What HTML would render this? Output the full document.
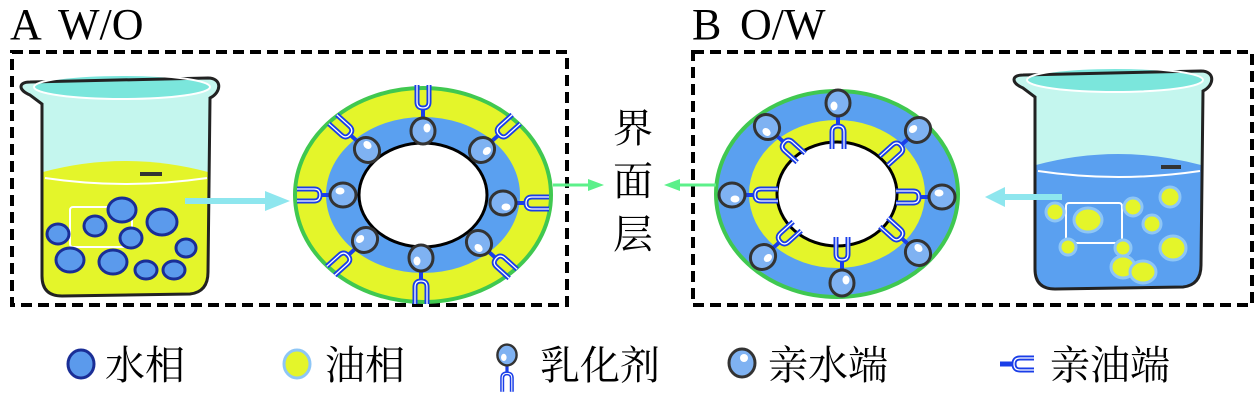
<!DOCTYPE html>
<html><head><meta charset="utf-8"><style>
body{margin:0;background:#fff}
svg{display:block}
text{font-family:"Liberation Serif","Noto Serif CJK SC",serif;fill:#000}
</style></head><body>
<svg width="1260" height="401" viewBox="0 0 1260 401" xmlns="http://www.w3.org/2000/svg">
<defs>
<g id="mol">
  <line x1="10" y1="0" x2="24" y2="0" stroke="#1a3ee8" stroke-width="4"/>
  <path d="M46,-6 L29,-6 Q23,-6 23,0 Q23,6 29,6 L46,6" fill="none" stroke="#1a3ee8" stroke-width="5"/>
  <path d="M46,-6 L29,-6 Q23,-6 23,0 Q23,6 29,6 L46,6" fill="none" stroke="#fff" stroke-width="1.3"/>
  <ellipse cx="0" cy="0" rx="13" ry="12" fill="#7fb2f2" stroke="#333" stroke-width="3"/>
  <ellipse cx="3" cy="4" rx="4.5" ry="3.5" fill="#fff"/>
</g>
<path id="bk" d="M30,95 C18,90 18,82 30,82 L208,78 C222,78 222,92 210,98 L208,272 Q208,292 190,294 L62,296 Q42,296 42,276 L42,104 Z"/>
</defs>

<text x="10" y="39" font-size="44">A</text><text x="58" y="39" font-size="44">W/O</text>
<text x="692" y="39" font-size="44">B</text><text x="740" y="39" font-size="44">O/W</text>

<rect x="12" y="52" width="555" height="253" fill="none" stroke="#000" stroke-width="4" stroke-dasharray="11,6"/>
<rect x="693" y="52" width="559" height="253" fill="none" stroke="#000" stroke-width="4" stroke-dasharray="11,6"/>

<!-- left beaker -->
<use href="#bk" fill="#c4f6ee"/>
<ellipse cx="122" cy="87" rx="88" ry="12" fill="#7be6dc"/>
<path d="M43,172 Q125,150 208,172 L208,272 Q208,292 190,294 L62,296 Q43,296 43,276 Z" fill="#e4f52a"/>
<path d="M45,178 Q125,190 207,178" fill="none" stroke="#fff" stroke-width="2"/>
<rect x="70" y="207" width="62" height="40" rx="3" fill="none" stroke="#fff" stroke-width="2"/>
<rect x="140" y="172" width="22" height="4" fill="#333"/>
<g fill="#5b9aec" stroke="#1a2e96" stroke-width="3">
<ellipse cx="122" cy="210" rx="14" ry="12"/><ellipse cx="95" cy="226" rx="11" ry="10"/>
<ellipse cx="162" cy="222" rx="15" ry="13"/><ellipse cx="58" cy="234" rx="11" ry="10"/>
<ellipse cx="131" cy="238" rx="11" ry="10"/><ellipse cx="70" cy="260" rx="14" ry="12"/>
<ellipse cx="113" cy="262" rx="14" ry="12"/><ellipse cx="146" cy="270" rx="11" ry="9"/>
<ellipse cx="174" cy="270" rx="11" ry="9"/><ellipse cx="186" cy="248" rx="10" ry="9"/>
</g>
<use href="#bk" fill="none" stroke="#222" stroke-width="3"/>
<ellipse cx="122" cy="87" rx="88" ry="12" fill="none" stroke="#fff" stroke-width="2"/>
<line x1="185" y1="201" x2="270" y2="201" stroke="#8ee6ee" stroke-width="6"/>
<polygon points="265,191 290,201 265,211" fill="#8ee6ee"/>

<!-- right beaker -->
<g transform="translate(993,-7)">
<use href="#bk" fill="#c4f6ee"/>
<ellipse cx="122" cy="87" rx="88" ry="12" fill="#7be6dc"/>
<path d="M43,172 Q125,150 208,172 L208,272 Q208,292 190,294 L62,296 Q43,296 43,276 Z" fill="#5aa0f0"/>
<path d="M45,178 Q125,190 207,178" fill="none" stroke="#fff" stroke-width="2"/>
<rect x="73" y="210" width="56" height="40" rx="3" fill="none" stroke="#fff" stroke-width="2"/>
<rect x="168" y="172" width="20" height="4" fill="#333"/>
</g>
<g fill="#e4f52a" stroke="#8ec6f6" stroke-width="3">
<circle cx="1055" cy="212" r="9"/><ellipse cx="1088" cy="220" rx="14" ry="12"/>
<circle cx="1133" cy="207" r="9"/><circle cx="1170" cy="197" r="10"/>
<circle cx="1152" cy="224" r="9"/><circle cx="1068" cy="247" r="8"/>
<ellipse cx="1123" cy="267" rx="12" ry="11"/><circle cx="1123" cy="248" r="8"/>
<ellipse cx="1173" cy="248" rx="13" ry="12"/><ellipse cx="1143" cy="272" rx="13" ry="11"/>
</g>
<g transform="translate(993,-7)">
<use href="#bk" fill="none" stroke="#222" stroke-width="3"/>
<ellipse cx="122" cy="87" rx="88" ry="12" fill="none" stroke="#fff" stroke-width="2"/>
</g>
<line x1="1062" y1="197" x2="1000" y2="197" stroke="#8ee6ee" stroke-width="6"/>
<polygon points="1005,187 985,197 1005,207" fill="#8ee6ee"/>

<!-- left ring -->
<ellipse cx="423" cy="195" rx="128" ry="107" fill="#e4f52a" stroke="#40c850" stroke-width="4"/>
<ellipse cx="423" cy="195" rx="97" ry="78" fill="#5aa0f0"/>
<ellipse cx="423" cy="195" rx="64" ry="52" fill="#fff" stroke="#000" stroke-width="3"/>
<use href="#mol" transform="translate(423,131) rotate(-90)"/>
<use href="#mol" transform="translate(482,150) rotate(-42)"/>
<use href="#mol" transform="translate(503,203) rotate(0)"/>
<use href="#mol" transform="translate(479,243) rotate(42)"/>
<use href="#mol" transform="translate(421,258) rotate(90)"/>
<use href="#mol" transform="translate(365,240) rotate(138)"/>
<use href="#mol" transform="translate(343,195) rotate(180)"/>
<use href="#mol" transform="translate(367,150) rotate(-138)"/>

<!-- right ring -->
<ellipse cx="837" cy="194" rx="121" ry="103" fill="#5aa0f0" stroke="#40c850" stroke-width="4"/>
<ellipse cx="837" cy="194" rx="88" ry="74" fill="#e4f52a"/>
<ellipse cx="837" cy="194" rx="60" ry="52" fill="#fff" stroke="#000" stroke-width="3"/>
<use href="#mol" transform="translate(838,103) rotate(90)"/>
<use href="#mol" transform="translate(918,130) rotate(138)"/>
<use href="#mol" transform="translate(942,197) rotate(180)"/>
<use href="#mol" transform="translate(918,253) rotate(-138)"/>
<use href="#mol" transform="translate(842,283) rotate(-90)"/>
<use href="#mol" transform="translate(763,257) rotate(-42)"/>
<use href="#mol" transform="translate(732,195) rotate(0)"/>
<use href="#mol" transform="translate(767,127) rotate(42)"/>

<!-- center -->
<line x1="553" y1="185" x2="590" y2="185" stroke="#5cf08a" stroke-width="3"/>
<polygon points="588,179 604,185 588,191" fill="#5cf08a"/>
<line x1="716" y1="185" x2="678" y2="185" stroke="#5cf08a" stroke-width="3"/>
<polygon points="680,179 664,185 680,191" fill="#5cf08a"/>
<text x="613" y="142" font-size="40">界</text>
<text x="613" y="195" font-size="40">面</text>
<text x="613" y="248" font-size="40">层</text>

<!-- legend -->
<ellipse cx="81" cy="364" rx="13" ry="14" fill="#5b9aec" stroke="#1a2e96" stroke-width="3"/>
<text x="105" y="379" font-size="40">水相</text>
<ellipse cx="297" cy="364" rx="13" ry="14" fill="#e4f52a" stroke="#8ec6f6" stroke-width="3"/>
<text x="325" y="379" font-size="40">油相</text>
<use href="#mol" transform="translate(507,355) rotate(90) scale(0.8)"/>
<text x="540" y="379" font-size="40">乳化剂</text>
<ellipse cx="742" cy="363" rx="13" ry="14" fill="#7fb2f2" stroke="#333" stroke-width="3"/>
<ellipse cx="744" cy="358" rx="4" ry="4" fill="#fff"/>
<text x="768" y="379" font-size="40">亲水端</text>
<g transform="translate(1000,364)">
<line x1="0" y1="0" x2="14" y2="0" stroke="#1a3ee8" stroke-width="5"/>
<path d="M34,-6 L20,-6 Q14,-6 14,0 Q14,6 20,6 L34,6" fill="none" stroke="#1a3ee8" stroke-width="5"/>
<path d="M34,-6 L20,-6 Q14,-6 14,0 Q14,6 20,6 L34,6" fill="none" stroke="#fff" stroke-width="1.3"/>
</g>
<text x="1050" y="379" font-size="40">亲油端</text>
</svg>
</body></html>
